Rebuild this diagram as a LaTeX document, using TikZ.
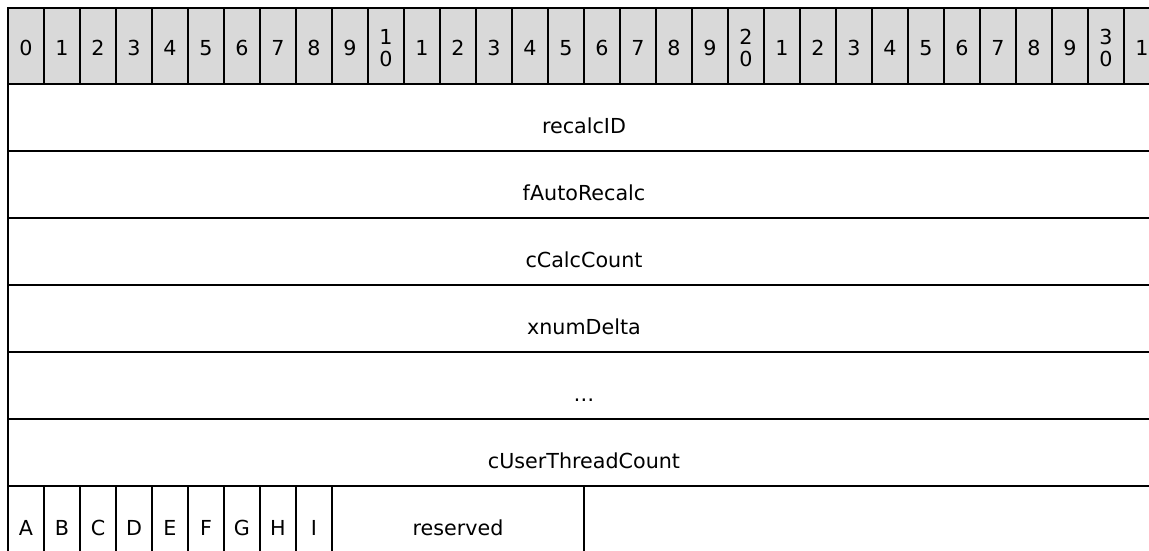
\documentclass[tikz,border=0pt]{standalone}
\usepackage{fontspec}
\setmainfont{DejaVu Sans}
\definecolor{hdrgray}{RGB}{217,217,217}
\tikzset{
  cellline/.style={line width=1.6pt},
  hdrcell/.style={cellline, fill=hdrgray},
  lbl/.style={font=\fontsize{15.5}{16.3}\selectfont, inner sep=0pt},
}
\begin{document}
\begin{tikzpicture}[x=0.75pt, y=-0.75pt]
    \useasboundingbox (0,0) rectangle (1149,550);
    % bit numbers
    \foreach \lab [count=\i from 0] in {0,1,2,3,4,5,6,7,8,9,{1\\0},1,2,3,4,5,6,7,8,9,{2\\0},1,2,3,4,5,6,7,8,9,{3\\0},1} {
      \draw[hdrcell] (8+36*\i,8) rectangle ++(36,76);
      \node[lbl, align=center] (bit\i) at (26+36*\i,48) {\lab};
    }
    % full-width fields
    \foreach \name [count=\k from 0] in {recalcID,fAutoRecalc,cCalcCount,xnumDelta,\ldots,cUserThreadCount} {
      \draw[cellline] (8,84+67*\k) rectangle ++(1152,67);
      \node[lbl, anchor=base] (field\k) at (584,133+67*\k) {\name};
    }
    % flags
    \foreach \flag [count=\k from 0] in {A,B,C,D,E,F,G,H,I} {
      \draw[cellline] (8+36*\k,486) rectangle ++(36,67);
      \node[lbl, anchor=base] (flag\flag) at (26+36*\k,535) {\flag};
    }
    \draw[cellline] (332,486) rectangle ++(252,67);
    \node[lbl, anchor=base] (reserved) at (458,535) {reserved};
\end{tikzpicture}
\end{document}
